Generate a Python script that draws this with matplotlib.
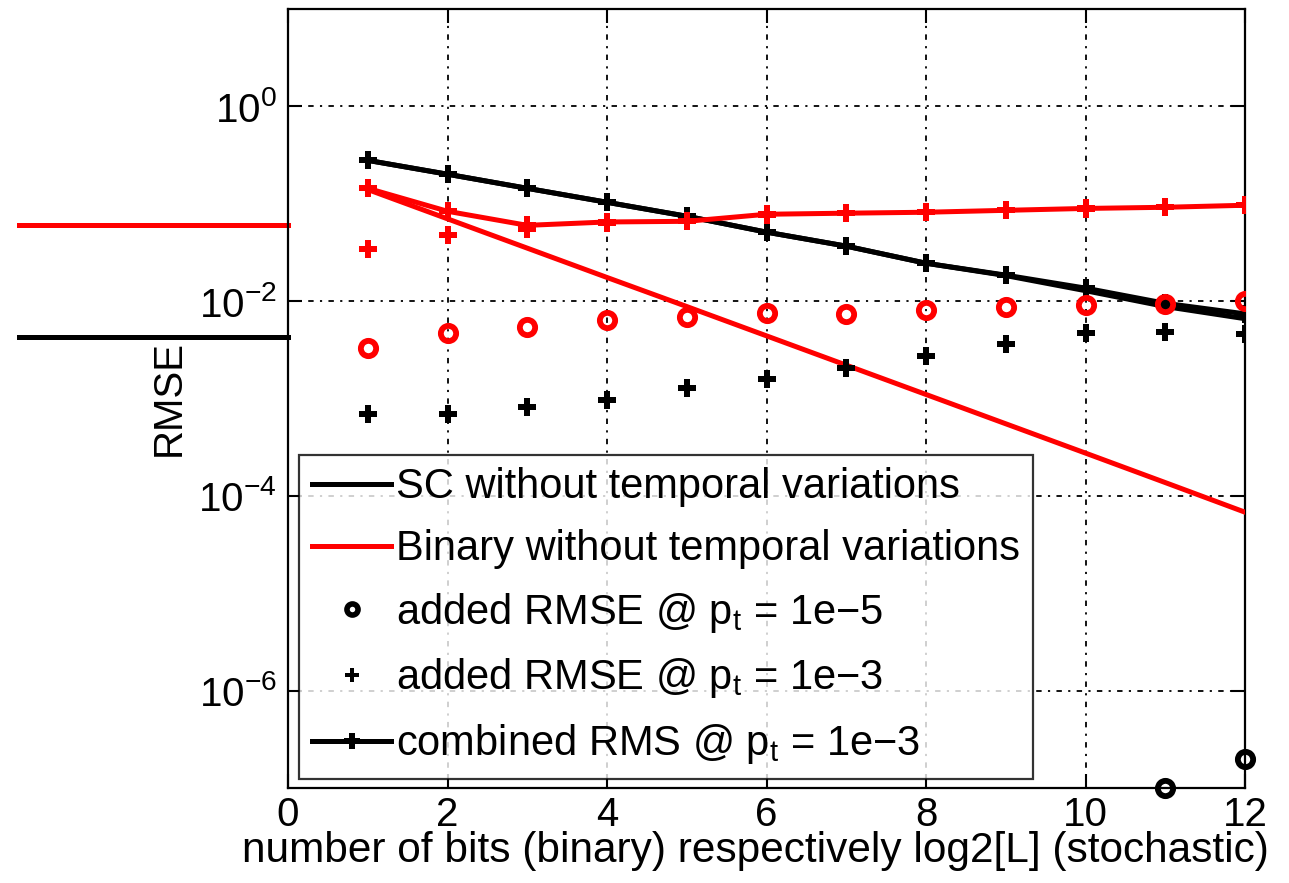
import matplotlib
matplotlib.use("Agg")
import matplotlib.pyplot as plt
import numpy as np
from matplotlib.lines import Line2D

plt.rcParams['font.family'] = ['Liberation Sans', 'DejaVu Sans']
plt.rcParams['mathtext.fontset'] = 'custom'
plt.rcParams['mathtext.rm'] = 'Liberation Sans'
plt.rcParams['mathtext.it'] = 'Liberation Sans:italic'
plt.rcParams['mathtext.default'] = 'regular'

# ---- data ----
bits = [1, 2, 3, 4, 5, 6, 7, 8, 9, 10, 11, 12]

sc_no_var = [0.279, 0.201, 0.144, 0.1035, 0.0744, 0.0511, 0.0367, 0.0245, 0.0183, 0.0128, 0.0088, 0.0066]
bin_no_var = [0.14, 0.07, 0.035, 0.0175, 0.0088, 0.0044, 0.0022, 0.0011, 0.00055, 0.000275, 0.000137, 0.000068]

sc_added_1e5_x = [11, 12]
sc_added_1e5 = [1.0e-7, 2.0e-7]
bin_added_1e5 = [0.0033, 0.0047, 0.0054, 0.0064, 0.0068, 0.0075, 0.0074, 0.0081, 0.0087, 0.0091, 0.0093, 0.0100]

sc_added_1e3 = [0.00069, 0.00069, 0.00082, 0.00097, 0.00128, 0.00158, 0.00206, 0.00273, 0.00362, 0.0047, 0.0048, 0.0046]
bin_added_1e3 = [0.034, 0.0475, 0.055, 0.063, 0.066, 0.076, 0.080, 0.082, 0.086, 0.089, 0.092, 0.096]

sc_combined_1e3 = [0.279, 0.201, 0.144, 0.1035, 0.0744, 0.0511, 0.0367, 0.0245, 0.0185, 0.0136, 0.0095, 0.0074]
bin_combined_1e3 = [0.144, 0.0837, 0.060, 0.065, 0.066, 0.078, 0.080, 0.0818, 0.0856, 0.0895, 0.092, 0.0965]

ref_levels = [0.061, 0.0043]
ref_colors = ['red', 'black']

legend_labels = ['SC without temporal variations',
                 'Binary without temporal variations',
                 'added RMSE @ p$_t$ = 1e\u22125',
                 'added RMSE @ p$_t$ = 1e\u22123',
                 'combined RMS @ p$_t$ = 1e\u22123']

xticks = [0, 2, 4, 6, 8, 10, 12]
yticks = [1e-6, 1e-4, 1e-2, 1e0]

# ---- figure ----
fig = plt.figure(figsize=(12.89, 8.83), dpi=100)
ax = fig.add_axes([288/1289, 1 - 788/883, (1245-288)/1289, (788-9)/883])

lw = 3.6
ms_p = 13
ms_o = 11
mew_o = 4.2

ax.plot(bits, sc_no_var, color='black', lw=lw, zorder=3)
ax.plot(bits, bin_no_var, color='red', lw=lw, zorder=3)

ax.plot(sc_added_1e5_x, sc_added_1e5, linestyle='none', marker='o', ms=ms_o,
        mfc='none', mec='black', mew=mew_o, clip_on=False, zorder=4)
ax.plot(bits, bin_added_1e5, linestyle='none', marker='o', ms=ms_o,
        mfc='none', mec='red', mew=mew_o, zorder=4)

ax.plot(bits, sc_added_1e3, linestyle='none', marker='P', ms=ms_p,
        color='black', mew=0, zorder=4)
ax.plot(bits, bin_added_1e3, linestyle='none', marker='P', ms=ms_p,
        color='red', mew=0, zorder=4)

ax.plot(bits, sc_combined_1e3, color='black', lw=lw, marker='P', ms=ms_p, mew=0, zorder=3)
ax.plot(bits, bin_combined_1e3, color='red', lw=lw, marker='P', ms=ms_p, mew=0, zorder=3)

# reference lines extending left of the axes
ytr = ax.get_yaxis_transform()
for lev, c in zip(ref_levels, ref_colors):
    ax.plot([-0.2816, 0.0], [lev, lev], color=c, lw=lw, transform=ytr, clip_on=False)

ax.set_yscale('log')
ax.set_xlim(0, 12)
ax.set_ylim(1e-7, 1e1)
ax.set_xticks(xticks)
ax.set_xticklabels([str(t) for t in xticks])
ax.set_yticks(yticks)
ax.set_yticklabels(['$10^{%d}$' % int(np.log10(t)) for t in yticks])
ax.yaxis.set_minor_locator(matplotlib.ticker.NullLocator())

ax.tick_params(direction='in', length=10, width=1.5, top=True, right=True,
               pad=8, colors='black')
ax.tick_params(axis='x', labelsize=29, pad=6)
ax.tick_params(axis='y', labelsize=29, pad=8)
for s in ax.spines.values():
    s.set_linewidth(1.6)

ax.grid(True, which='major', color='black', lw=1.3, linestyle=(0, (3, 3.5, 1.2, 3.5)))
ax.set_axisbelow(True)

ax.set_xlabel('number of bits (binary) respectively log2[L] (stochastic)', fontsize=30.5, labelpad=-2)
ax.xaxis.set_label_coords(0.488, -0.055, transform=ax.transAxes)
ax.xaxis.label.set_va('top')
ax.set_ylabel('RMSE', fontsize=29, labelpad=8)

# legend handles
h = [Line2D([], [], color='black', lw=lw),
     Line2D([], [], color='red', lw=lw),
     Line2D([], [], color='black', linestyle='none', marker='o', ms=8, mfc='none', mew=4),
     Line2D([], [], color='black', linestyle='none', marker='P', ms=10, mew=0),
     Line2D([], [], color='black', lw=lw, marker='P', ms=11, mew=0)]
leg = ax.legend(h, legend_labels, loc='lower left', bbox_to_anchor=(0.012, 0.012),
                fontsize=30, frameon=True, fancybox=False, edgecolor='black',
                handlelength=1.9, handletextpad=0.12, borderpad=0.3, labelspacing=0.52,
                borderaxespad=0.0, handleheight=0.7)
leg.get_frame().set_linewidth(1.6)
leg.set_zorder(10)

fig.savefig('out.png', dpi=100, facecolor='white')
